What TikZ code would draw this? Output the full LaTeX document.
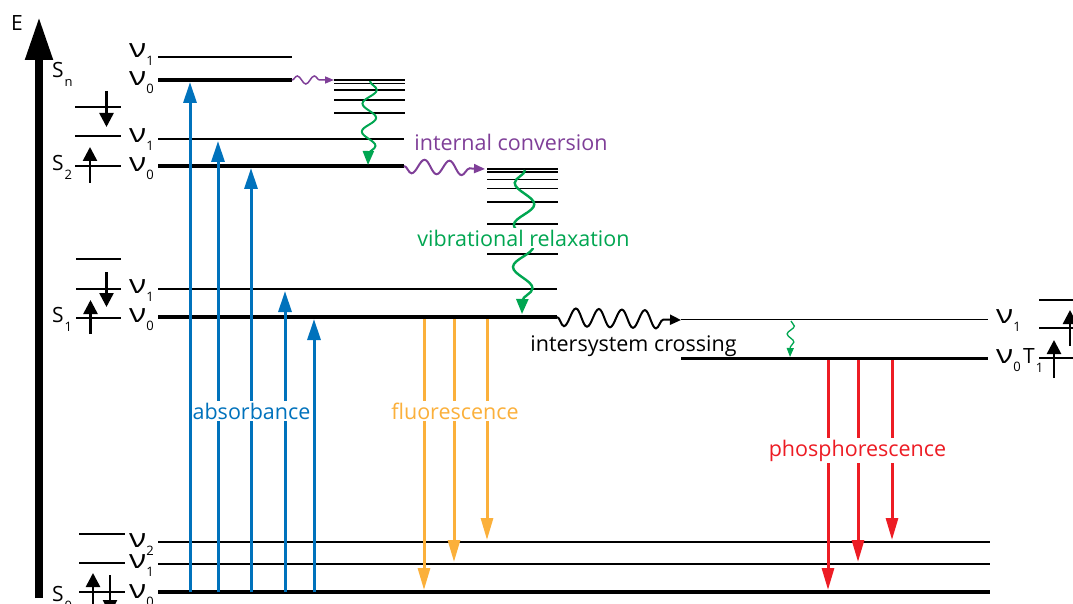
\documentclass[tikz,border=0pt]{standalone}
\usepackage{fontspec}
\setmainfont{Open Sans}
\usetikzlibrary{arrows.meta,decorations.pathmorphing}

\definecolor{absblue}{RGB}{0,114,188}
\definecolor{fluoorange}{RGB}{251,176,59}
\definecolor{phosred}{RGB}{237,28,36}
\definecolor{icpurple}{RGB}{127,63,152}
\definecolor{vrgreen}{RGB}{0,166,81}

% level label: nu with a lowered index
\newcommand{\nulevel}[1]{{\fontsize{26}{26}\selectfont\scalebox{1.22}[1]{ν}}\raisebox{-8pt}{\fontsize{13}{13}\selectfont #1}}
% state label: letter with a lowered index
\newcommand{\statelab}[2]{{\fontsize{21}{21}\selectfont #1}\hspace{1pt}\raisebox{-9pt}{\fontsize{13}{13}\selectfont #2}}

\tikzset{
  thinlev/.style={line width=1.8pt},
  thicklev/.style={line width=3.6pt},
  minilev/.style={line width=1.6pt},
  spinarrow/.style={line width=2.6pt,-{Triangle[width=14pt,length=14pt]}},
  absarrow/.style={absblue,line width=3pt,-{Triangle[width=13pt,length=21pt]}},
  fluoarrow/.style={fluoorange,line width=3pt,-{Triangle[width=12pt,length=22pt]}},
  phosarrow/.style={phosred,line width=3pt,-{Triangle[width=12pt,length=22pt]}},
  wave/.style n args={4}{decorate,decoration={snake,amplitude=#1,segment length=#2,post length=#3,pre length=0pt,#4}},
  lab/.style={inner sep=0pt,font=\fontsize{21.5}{21.5}\selectfont},
  lvl/.style={inner sep=0pt,anchor=base west},
}

\begin{document}
\begin{tikzpicture}[x=1pt,y=-1pt]
\useasboundingbox (0,0) rectangle (1073,604);

% energy axis
\coordinate (eaxis0) at (39,598);
\coordinate (eaxis1) at (39,17);
\draw[line width=8pt,-{Triangle[width=26pt,length=43pt]}] (eaxis0) -- (eaxis1);
\node[lvl] (elab) at (11,31) {\fontsize{21}{21}\selectfont E};

% state labels
\node[lvl] (snlab) at (52,78) {\statelab{S}{n}};
\node[lvl] (s2lab) at (52,171) {\statelab{S}{2}};
\node[lvl] (s1lab) at (52,322) {\statelab{S}{1}};
\node[lvl] (s0lab) at (52,601) {\statelab{S}{0}};
\node[lvl] (t1lab) at (1023,363) {\statelab{T}{1}};

% electron configurations
\draw[minilev] (75,107) -- (121,107) (75,136) -- (121,136) (75,166) -- (121,166);
\coordinate (e2a) at (106.5,91);  \coordinate (e2b) at (106.5,127);
\coordinate (e2c) at (90,183);    \coordinate (e2d) at (90,147);
\draw[spinarrow] (e2a) -- (e2b);
\draw[spinarrow] (e2c) -- (e2d);

\draw[minilev] (76,259) -- (121,259) (76,289) -- (121,289) (76,318) -- (121,318);
\coordinate (e1a) at (106.5,272); \coordinate (e1b) at (106.5,307);
\coordinate (e1c) at (90.5,334);  \coordinate (e1d) at (90.5,300);
\draw[spinarrow] (e1a) -- (e1b);
\draw[spinarrow] (e1c) -- (e1d);

\draw[minilev] (79,534) -- (125,534) (79,563) -- (125,563) (79,592) -- (125,592);
\coordinate (e0a) at (93,612);  \coordinate (e0b) at (93,573);
\coordinate (e0c) at (110,575); \coordinate (e0d) at (110,614);
\draw[spinarrow] (e0a) -- (e0b);
\draw[spinarrow] (e0c) -- (e0d);

\draw[minilev] (1039,300) -- (1080,300) (1039,328) -- (1080,328) (1039,358) -- (1080,358);
\coordinate (eta) at (1054,378); \coordinate (etb) at (1054,340);
\coordinate (etc) at (1070,346); \coordinate (etd) at (1070,310);
\draw[spinarrow] (eta) -- (etb);
\draw[spinarrow] (etc) -- (etd);

% vibrational level labels
\node[lvl] (snv1) at (129,58)  {\nulevel{1}};
\node[lvl] (snv0) at (129,86)  {\nulevel{0}};
\node[lvl] (s2v1) at (129,143) {\nulevel{1}};
\node[lvl] (s2v0) at (129,172) {\nulevel{0}};
\node[lvl] (s1v1) at (129,293) {\nulevel{1}};
\node[lvl] (s1v0) at (129,322) {\nulevel{0}};
\node[lvl] (s0v2) at (129,547) {\nulevel{2}};
\node[lvl] (s0v1) at (129,568) {\nulevel{1}};
\node[lvl] (s0v0) at (129,598) {\nulevel{0}};
\node[lvl] (t1v1) at (996,323) {\nulevel{1}};
\node[lvl] (t1v0) at (996,363) {\nulevel{0}};

% Sn
\draw[thinlev] (158,57) -- (292,57);
\draw[thicklev] (158,80) -- (292,80);
% S2
\draw[thinlev] (158,139) -- (404,139);
\draw[thicklev] (158,166) -- (404,166);
% S1
\draw[thinlev] (158,289) -- (557,289);
\draw[thicklev] (158,317) -- (557,317);
% T1
\draw[thinlev] (681,319.5) -- (988,319.5);
\draw[thicklev] (681,358.5) -- (988,358.5);
% S0
\draw[thinlev] (158,542) -- (990,542);
\draw[thinlev] (158,564) -- (990,564);
\draw[thicklev] (158,592) -- (990,592);

% dense vibrational ladders
\foreach \y in {80,83.5,90,100,112.7}
  \draw[thinlev] (334,\y) -- (405,\y);
\foreach \y in {169,172,179.5,188.5,202,224,254}
  \draw[thinlev] (487,\y) -- (558,\y);

% internal conversion
\coordinate (icna) at (292,80);  \coordinate (icnb) at (334,80);
\draw[icpurple,line width=1.5pt,wave={4pt}{17pt}{7pt}{},-{Triangle[width=7pt,length=9pt]}] (icna) -- (icnb);
\coordinate (ic2a) at (404,166); \coordinate (ic2b) at (485,169);
\draw[icpurple,line width=2pt,wave={7pt}{25pt}{8pt}{mirror},-{Triangle[width=9pt,length=11pt]}] (ic2a) -- (ic2b);

% vibrational relaxation
\coordinate (vrna) at (370,81);  \coordinate (vrnb) at (368,165);
\draw[vrgreen,line width=2pt,wave={7pt}{28pt}{10pt}{},-{Triangle[width=11pt,length=14pt]}] (vrna) -- (vrnb);
\coordinate (vr1a) at (525,170); \coordinate (vr1b) at (522,314);
\draw[vrgreen,line width=2.4pt,wave={10pt}{42pt}{12pt}{mirror},-{Triangle[width=12pt,length=15pt]}] (vr1a) -- (vr1b);
\coordinate (vrta) at (791,321); \coordinate (vrtb) at (790,357);
\draw[vrgreen,line width=1.3pt,wave={3.5pt}{16pt}{6pt}{},-{Triangle[width=7pt,length=9pt]}] (vrta) -- (vrtb);

% intersystem crossing
\coordinate (isca) at (557,317); \coordinate (iscb) at (681,320);
\draw[line width=2pt,wave={9pt}{23pt}{11pt}{mirror},-{Triangle[width=10pt,length=11pt]}] (isca) -- (iscb);

% absorption
\foreach \x/\t [count=\i] in {190/82,218/141,251/168,285/291,314/319}{
  \coordinate (abs\i a) at (\x,592);
  \coordinate (abs\i b) at (\x,\t);
  \draw[absarrow] (abs\i a) -- (abs\i b);
}
% fluorescence
\foreach \x/\t [count=\i] in {424/590,454/562,487/540}{
  \coordinate (flu\i a) at (\x,319);
  \coordinate (flu\i b) at (\x,\t);
  \draw[fluoarrow] (flu\i a) -- (flu\i b);
}
% phosphorescence
\foreach \x/\t [count=\i] in {828/590,858/562,892/540}{
  \coordinate (pho\i a) at (\x,360);
  \coordinate (pho\i b) at (\x,\t);
  \draw[phosarrow] (pho\i a) -- (pho\i b);
}

% process labels
\node[lab,anchor=base,text=icpurple] (iclab) at (511,151) {internal conversion};
\node[lab,anchor=base,text=vrgreen,fill=white,inner ysep=2pt] (vrlab) at (523.5,246) {vibrational relaxation};
\node[lab,anchor=base] (isclab) at (633.5,351) {intersystem crossing};
\node[lab,anchor=base,text=absblue,fill=white,inner ysep=2pt] (abslab) at (251.5,419) {absorbance};
\node[lab,anchor=base,text=fluoorange,fill=white,inner ysep=2pt] (flulab) at (455,419) {fluorescence};
\node[lab,anchor=base,text=phosred,fill=white,inner ysep=2pt] (pholab) at (857.5,456) {phosphorescence};
\end{tikzpicture}
\end{document}
